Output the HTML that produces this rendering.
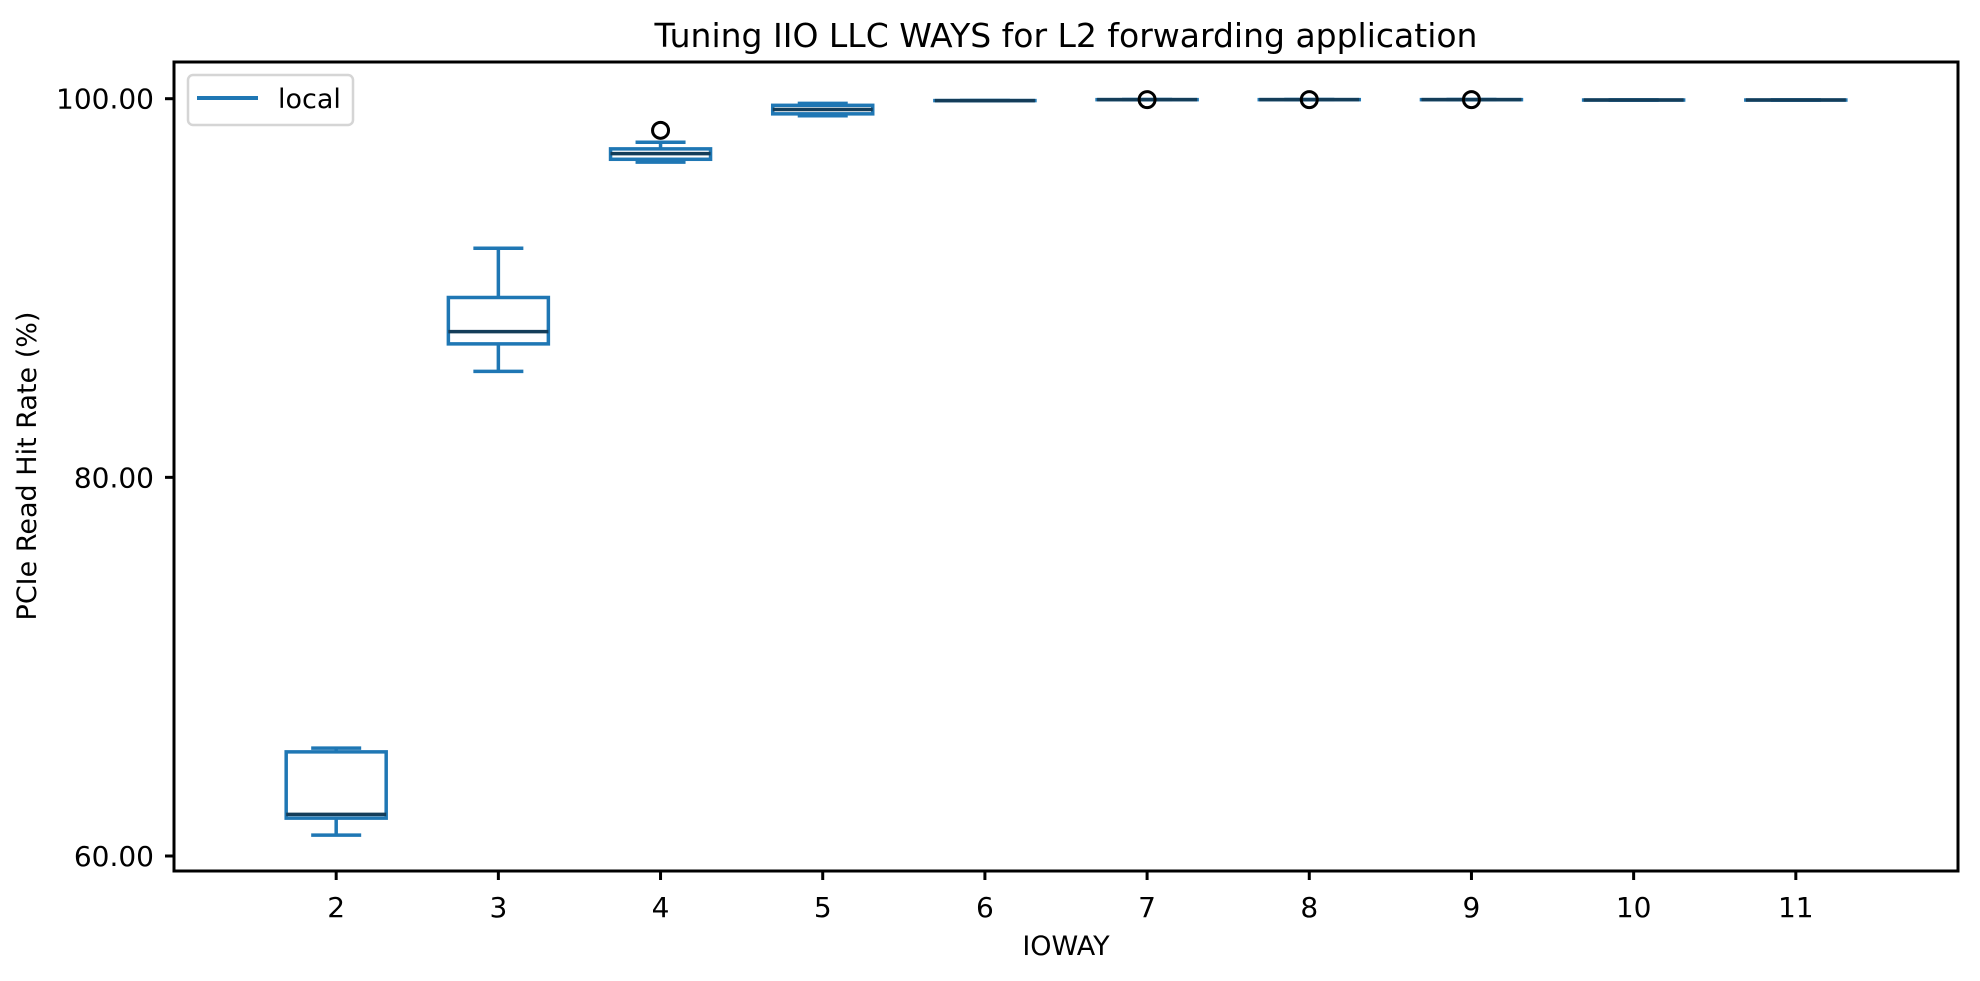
<!DOCTYPE html>
<html><head><meta charset="utf-8"><style>
html,body{margin:0;padding:0;background:#fff;}
svg text{font-family:"DejaVu Sans","Liberation Sans",sans-serif;}
</style></head><body>
<svg width="1980" height="976" xmlns="http://www.w3.org/2000/svg" id="chart">
<rect width="1980" height="976" fill="#fff"/>
<text x="1066" y="47" font-size="33" text-anchor="middle">Tuning IIO LLC WAYS for L2 forwarding application</text>
<text x="1066" y="955" font-size="27" text-anchor="middle">IOWAY</text>
<text transform="translate(36,466) rotate(-90)" font-size="27" text-anchor="middle">PCIe Read Hit Rate (%)</text>
<g id="marks"></g>
<rect x="174" y="62" width="1784" height="809" fill="none" stroke="#000" stroke-width="3"/>
<g>
<rect x="188" y="75" width="165" height="50" rx="5" fill="#fff" fill-opacity="0.8" stroke="#d5d5d5" stroke-width="2.5"/>
<line x1="197" y1="98" x2="258" y2="98" stroke="#1f77b4" stroke-width="4"/>
<text x="278" y="108" font-size="27">local</text>
</g>
</svg>
<script>
const categories = [2,3,4,5,6,7,8,9,10,11];
const whiskerLow = [61.1,85.6,96.65,99.1,99.9,99.95,99.95,99.95,99.93,99.93];
const q1 = [62.0,87.05,96.8,99.2,99.9,99.95,99.95,99.95,99.93,99.93];
const median = [62.2,87.7,97.1,99.43,99.9,99.95,99.95,99.95,99.93,99.93];
const q3 = [65.5,89.5,97.35,99.65,99.9,99.95,99.95,99.95,99.93,99.93];
const whiskerHigh = [65.7,92.1,97.7,99.75,99.9,99.95,99.95,99.95,99.93,99.93];
const fliers = [[],[],[98.33],[],[],[99.95],[99.95],[99.95],[],[]];
const yTicks = [60,80,100];
const yTickLabels = ["60.00","80.00","100.00"];

const NS="http://www.w3.org/2000/svg";
const L=174,R=1958,T=62,B=871;
const xs=v=>L+(v-1)*(R-L)/11;
const ys=v=>856+(v-60)*(98.7-856)/40;
const g=document.getElementById('marks');
const svg=document.getElementById('chart');
function mk(tag,attrs,parent){const e=document.createElementNS(NS,tag);for(const k in attrs)e.setAttribute(k,attrs[k]);(parent||g).appendChild(e);return e;}
const hw=50, cw=25, blue="#1f77b4", dark="#143d59", sw=3.5;
categories.forEach((c,i)=>{
  const cx=xs(c);
  const grp=mk('g',{});
  
  
  const w1=mk('line',{x1:cx,x2:cx,y1:ys(q1[i]),y2:ys(whiskerLow[i]),stroke:blue,'stroke-width':sw},grp);
  
  
  const w2=mk('line',{x1:cx,x2:cx,y1:ys(q3[i]),y2:ys(whiskerHigh[i]),stroke:blue,'stroke-width':sw},grp);
  
  
  const c1=mk('line',{x1:cx-cw,x2:cx+cw,y1:ys(whiskerLow[i]),y2:ys(whiskerLow[i]),stroke:blue,'stroke-width':sw},grp);
  
  
  const c2=mk('line',{x1:cx-cw,x2:cx+cw,y1:ys(whiskerHigh[i]),y2:ys(whiskerHigh[i]),stroke:blue,'stroke-width':sw},grp);
  
  
  const top=ys(q3[i]), bot=ys(q1[i]);
  const bx=mk('rect',{x:cx-hw,y:top,width:2*hw,height:Math.max(bot-top,0.01),fill:'none',stroke:blue,'stroke-width':sw},grp);
  
  
  const md=mk('line',{x1:cx-hw,x2:cx+hw,y1:ys(median[i]),y2:ys(median[i]),stroke:dark,'stroke-width':sw},grp);
  
  
  fliers[i].forEach(f=>{
    const o=mk('circle',{cx:cx,cy:ys(f),r:8,fill:'none',stroke:'#000','stroke-width':3},grp);
    
    
  });
  const tk=mk('line',{x1:cx,x2:cx,y1:B,y2:B+9,stroke:'#000','stroke-width':3},svg);
  
  
  const tl=mk('text',{x:cx,y:B+46,'font-size':28,'text-anchor':'middle'},svg);
  tl.textContent=String(c);
  
  
});
yTicks.forEach((v,i)=>{
  const y=ys(v);
  const tk=mk('line',{x1:L-9,x2:L,y1:y,y2:y,stroke:'#000','stroke-width':3},svg);
  
  
  const tl=mk('text',{x:L-20,y:y+10,'font-size':28,'text-anchor':'end'},svg);
  tl.textContent=yTickLabels[i];
  
  
});
</script>
</body></html>
